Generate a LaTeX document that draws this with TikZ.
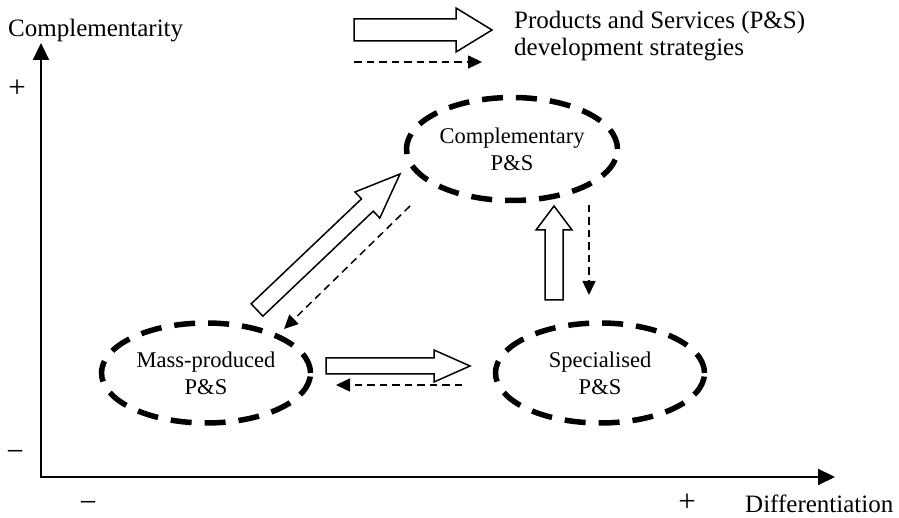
\documentclass[tikz,border=0pt]{standalone}
\usepackage{fontspec}
\setmainfont{Liberation Serif}
\usetikzlibrary{arrows.meta,calc,shapes.geometric}
\newcommand\myblockarrow[5]{%
  \draw[blk] let \p1=(#1), \p2=(#2), \n1={atan2(\y2-\y1,\x2-\x1)}, \n2={veclen(\x2-\x1,\y2-\y1)} in
  [shift={(\p1)}, rotate=\n1] (0,-#3) -- ({\n2-#5},-#3) -- ({\n2-#5},-#4) -- (\n2,0) -- ({\n2-#5},#4) -- ({\n2-#5},#3) -- (0,#3) -- cycle;}
\begin{document}
\begin{tikzpicture}[x=1pt,y=1pt,
  lbl/.style={font=\fontsize{25}{28}\selectfont, inner sep=0pt},
  sgn/.style={font=\fontsize{31}{31}\selectfont, inner sep=0pt, anchor=base},
  ell/.style={ellipse, draw, line width=5.5pt, dash pattern=on 21pt off 13pt,
    minimum width=209pt, minimum height=100pt, inner sep=0pt, align=center,
    font=\fontsize{22.5}{27}\selectfont},
  axisline/.style={line width=2pt, {Triangle[length=17pt,width=16pt]}-{Triangle[length=17pt,width=16pt]}},
  dasharr/.style={line width=1.5pt, dash pattern=on 7.5pt off 5pt, -{Triangle[length=14pt,width=13pt]}},
  blk/.style={draw, line width=1.5pt, fill=white, line join=miter}
]
\useasboundingbox (0,0) rectangle (899,518);

% axes
\coordinate (O) at (41,41);
\coordinate (ytop) at (41,475);
\coordinate (xend) at (835,41);
\draw[axisline] (ytop) -- (O) -- (xend);

\node[lbl, anchor=base west] (ylab) at (8,481) {Complementarity};
\node[sgn] (yplus) at (17,420) {+};
\node[sgn] (yminus) at (15,56) {−};
\node[sgn] (xminus) at (88,5) {−};
\node[sgn] (xplus) at (687,6) {+};
\node[lbl, anchor=base west] (xlab) at (745,5) {Differentiation};

% ellipses
\node[ell] (mass) at (206,145) {Mass-produced\\P\&S};
\node[ell] (spec) at (600,145) {Specialised\\P\&S};
\node[ell, minimum height=103pt, minimum width=211pt] (comp) at (512,369) {Complementary\\P\&S};

% legend
\coordinate (lg1s) at (354,488);
\coordinate (lg1e) at (492,488);
\myblockarrow{lg1s}{lg1e}{11}{22}{36}
\coordinate (lg2s) at (354,456);
\coordinate (lg2e) at (482,456);
\draw[dasharr] (lg2s) -- (lg2e);
\node[lbl, anchor=base west] (leg1) at (514,489) {Products and Services (P\&S)};
\node[lbl, anchor=base west] (leg2) at (514,462) {development strategies};

% block arrows
\coordinate (msS) at (326,152);
\coordinate (msE) at (470,152);
\myblockarrow{msS}{msE}{8}{16}{36}
\coordinate (scS) at (554,218);
\coordinate (scE) at (554,312);
\myblockarrow{scS}{scE}{9}{18}{24}
\coordinate (mcS) at (257,208);
\coordinate (mcE) at (400,344);
\myblockarrow{mcS}{mcE}{8.5}{18}{45}

% dashed arrows
\coordinate (smS) at (462,133);
\coordinate (smE) at (336,133);
\draw[dasharr] (smS) -- (smE);
\coordinate (csS) at (589,313);
\coordinate (csE) at (589,223);
\draw[dasharr] (csS) -- (csE);
\coordinate (cmS) at (410,312);
\coordinate (cmE) at (284,189);
\draw[dasharr] (cmS) -- (cmE);
\end{tikzpicture}
\end{document}
